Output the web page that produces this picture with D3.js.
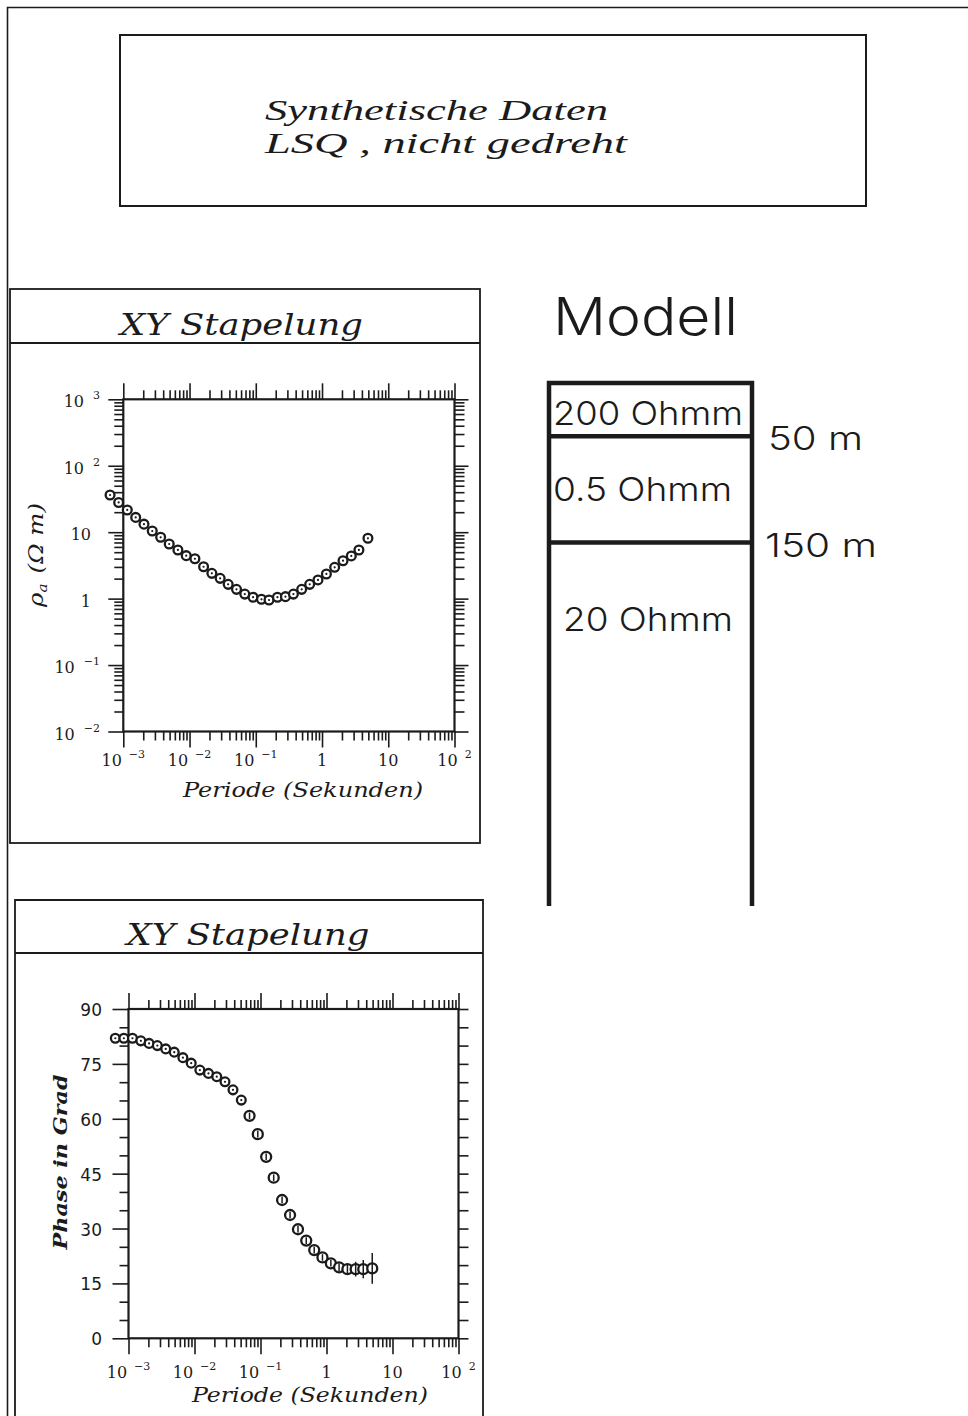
<!DOCTYPE html>
<html><head><meta charset="utf-8">
<script src="https://cdn.jsdelivr.net/npm/d3@7"></script>
<style>body{margin:0;background:#fff} svg{display:block}</style>
</head><body>
<svg id="c" width="968" height="1416"></svg>
<script>
// ---------------- data ----------------
const titleLines = ["Synthetische Daten", "LSQ , nicht gedreht"];
const panelTitle = "XY Stapelung";
const xAxisTitle = "Periode (Sekunden)";
const rhoAxisTitle = ["ρ", "a", " (Ω m)"];
const phaseAxisTitle = "Phase in Grad";
const periods = [6.31e-4, 8.51e-4, 1.148e-3, 1.538e-3, 2.051e-3, 2.735e-3, 3.664e-3, 4.932e-3,
  6.668e-3, 8.913e-3, 1.205e-2, 1.629e-2, 2.173e-2, 2.897e-2, 3.828e-2, 5.117e-2,
  6.823e-2, 9.099e-2, 0.1219, 0.1585, 0.2123, 0.2805, 0.3698, 0.4932,
  0.6516, 0.8690, 1.164, 1.552, 2.075, 2.767, 3.606, 4.932];
const rhoA = [36.3, 28.0, 21.6, 16.7, 13.2, 10.4, 8.38, 6.64, 5.40, 4.43, 3.98, 3.02, 2.40, 2.02, 1.64, 1.38,
  1.17, 1.05, 0.977, 0.953, 1.05, 1.07, 1.17, 1.38, 1.64, 1.91, 2.35, 2.96, 3.72, 4.39, 5.40, 8.09];
const phase = [82.0, 82.0, 82.0, 81.3, 80.6, 80.0, 79.1, 78.2, 76.7, 75.2, 73.3, 72.4, 71.5, 70.1, 67.9, 65.1,
  60.8, 55.8, 49.6, 43.9, 37.8, 33.7, 29.8, 26.7, 24.1, 22.1, 20.5, 19.4, 18.9, 18.9, 18.9, 19.1];
const phaseErr = [0.3, 0.3, 0.3, 0.3, 0.3, 0.3, 0.3, 0.3, 0.3, 0.3, 0.3, 0.3, 0.3, 0.3, 0.3, 0.3,
  0.9, 0.9, 0.9, 0.9, 0.9, 0.9, 0.9, 0.9, 0.9, 0.9, 0.9, 1.1, 1.4, 2.0, 2.5, 4.2];
const periodTickExps = [-3, -2, -1, 0, 1, 2];
const rhoTickExps = [-2, -1, 0, 1, 2, 3];
const phaseTicks = [0, 15, 30, 45, 60, 75, 90];
const modelTitle = "Modell";
const layerRes = ["200 Ohmm", "0.5 Ohmm", "20 Ohmm"];
const layerTops = [0, 50, 150];
const depthLabels = ["50 m", "150 m"];

// ---------------- drawing ----------------
const K = "#1b1b1b";
const svg = d3.select("#c");
const SERIF = "'DejaVu Serif', serif";
const SANS = "'DejaVu Sans', sans-serif";
const LINE = "'Inter', 'Lato', 'DejaVu Sans', sans-serif";

// outer sheet frame
svg.append("path").attr("d", "M7.5,1416 V7.5 H968").attr("fill", "none").attr("stroke", K).attr("stroke-width", 1.6);

// title box
svg.append("rect").attr("x", 120).attr("y", 35).attr("width", 746).attr("height", 171)
  .attr("fill", "none").attr("stroke", K).attr("stroke-width", 2);
const titleLen = [343, 362];
titleLines.forEach((t, i) => {
  svg.append("text").attr("x", 265).attr("y", 120 + i * 33)
    .attr("font-family", "'Liberation Serif', serif").attr("font-style", "italic")
    .attr("font-size", 30).attr("fill", K)
    .attr("textLength", titleLen[i]).attr("lengthAdjust", "spacingAndGlyphs").text(t);
});

function panelBox(x0, y0, x1, y1, divY, cx, ty, closed) {
  const g = svg.append("g").attr("fill", "none").attr("stroke", K).attr("stroke-width", 1.8);
  if (closed) g.append("rect").attr("x", x0).attr("y", y0).attr("width", x1 - x0).attr("height", y1 - y0);
  else g.append("path").attr("d", `M${x0},${y1} V${y0} H${x1} V${y1}`);
  g.append("line").attr("x1", x0).attr("x2", x1).attr("y1", divY).attr("y2", divY);
  svg.append("text").attr("x", cx).attr("y", ty).attr("text-anchor", "middle")
    .attr("font-family", SERIF).attr("font-style", "italic").attr("font-size", 29).attr("fill", K)
    .attr("textLength", 243).attr("lengthAdjust", "spacingAndGlyphs").text(panelTitle);
}
panelBox(10, 289, 480, 843, 343, 241.5, 335, true);
panelBox(15, 900, 483, 1420, 953, 248, 945, false);

function isMajor(v) { const l = Math.log10(v); return Math.abs(l - Math.round(l)) < 1e-6; }

function drawTicks(axisGen, values, size, tx, ty) {
  const g = svg.append("g").attr("transform", `translate(${tx},${ty})`);
  g.call(axisGen.tickValues(values).tickSize(size).tickSizeOuter(0).tickFormat(""));
  g.select(".domain").remove();
  g.selectAll("line").attr("stroke", K).attr("stroke-width", 1.6);
  return g;
}

function logXAxes(x, yTop, yBot) {
  const all = x.ticks();
  const maj = all.filter(isMajor), min = all.filter(v => !isMajor(v));
  drawTicks(d3.axisTop(x), maj, 16, 0, yTop);
  drawTicks(d3.axisTop(x), min, 9, 0, yTop);
  drawTicks(d3.axisBottom(x), maj, 16, 0, yBot);
  drawTicks(d3.axisBottom(x), min, 9, 0, yBot);
}

function xLabels(x, base) {
  periodTickExps.forEach(e => {
    const t = svg.append("text").attr("x", x(Math.pow(10, e))).attr("y", base)
      .attr("text-anchor", "middle").attr("font-family", SERIF).attr("font-size", 16).attr("fill", K);
    if (e === 0) t.text("1");
    else if (e === 1) t.text("10");
    else {
      t.append("tspan").text("10");
      t.append("tspan").attr("dx", 7).attr("dy", -8).attr("font-size", 11).text(String(e).replace("-", "−"));
    }
  });
}

function marker(g, cx, cy, r, bar) {
  g.append("circle").attr("cx", cx).attr("cy", cy).attr("r", r)
    .attr("fill", "#fff").attr("stroke", K).attr("stroke-width", 2.3);
  if (bar < 1.6) g.append("circle").attr("cx", cx).attr("cy", cy).attr("r", 1.1).attr("fill", K);
  else g.append("line").attr("x1", cx).attr("x2", cx).attr("y1", cy - bar).attr("y2", cy + bar)
    .attr("stroke", K).attr("stroke-width", 1.5);
}

// ---------- upper plot: apparent resistivity ----------
const x1 = d3.scaleLog().domain([1e-3, 1e2]).range([123.3, 454.5]);
const y1 = d3.scaleLog().domain([1e-2, 1e3]).range([731.5, 399.3]);
svg.append("rect").attr("x", x1.range()[0]).attr("y", y1.range()[1])
  .attr("width", x1.range()[1] - x1.range()[0]).attr("height", y1.range()[0] - y1.range()[1])
  .attr("fill", "none").attr("stroke", K).attr("stroke-width", 2.2);
logXAxes(x1, y1.range()[1], y1.range()[0]);
{
  const all = y1.ticks();
  const maj = all.filter(isMajor), min = all.filter(v => !isMajor(v));
  drawTicks(d3.axisLeft(y1), maj, 15, x1.range()[0], 0);
  drawTicks(d3.axisLeft(y1), min, 9, x1.range()[0], 0);
  drawTicks(d3.axisRight(y1), maj, 14, x1.range()[1], 0);
  drawTicks(d3.axisRight(y1), min, 10, x1.range()[1], 0);
}
xLabels(x1, 766);
rhoTickExps.forEach(e => {
  const hasSup = !(e === 0 || e === 1);
  const t = svg.append("text").attr("x", hasSup ? 100 : 91).attr("y", y1(Math.pow(10, e)) + 8)
    .attr("text-anchor", "end").attr("font-family", SERIF).attr("font-size", 16).attr("fill", K);
  if (e === 0) t.text("1");
  else if (e === 1) t.text("10");
  else {
    t.append("tspan").text("10");
    t.append("tspan").attr("dx", 9).attr("dy", -8).attr("font-size", 11).text(String(e).replace("-", "−"));
  }
});
svg.append("text").attr("x", 303).attr("y", 797).attr("text-anchor", "middle")
  .attr("font-family", SERIF).attr("font-style", "italic").attr("font-size", 20).attr("fill", K)
  .attr("textLength", 240).attr("lengthAdjust", "spacingAndGlyphs").text(xAxisTitle);
{
  const t = svg.append("text").attr("transform", "translate(43,555) rotate(-90)").attr("text-anchor", "middle")
    .attr("font-family", SERIF).attr("font-style", "italic").attr("font-size", 21).attr("fill", K)
    .attr("textLength", 104).attr("lengthAdjust", "spacingAndGlyphs");
  t.append("tspan").text(rhoAxisTitle[0]);
  t.append("tspan").attr("font-size", 13).attr("dy", 4).text(rhoAxisTitle[1]);
  t.append("tspan").attr("dy", -4).attr("dx", 2).text(rhoAxisTitle[2]);
}
{
  const g = svg.append("g");
  periods.forEach((p, i) => marker(g, x1(p), y1(rhoA[i]), 4.4, 0));
}

// ---------- lower plot: phase ----------
const x2 = d3.scaleLog().domain([1e-3, 1e2]).range([128.5, 458.5]);
const y2 = d3.scaleLinear().domain([0, 90]).range([1338.3, 1009]);
svg.append("rect").attr("x", x2.range()[0]).attr("y", y2.range()[1])
  .attr("width", x2.range()[1] - x2.range()[0]).attr("height", y2.range()[0] - y2.range()[1])
  .attr("fill", "none").attr("stroke", K).attr("stroke-width", 2.2);
logXAxes(x2, y2.range()[1], y2.range()[0]);
{
  const all = d3.range(0, 91, 5);
  const maj = all.filter(v => phaseTicks.includes(v)), min = all.filter(v => !phaseTicks.includes(v));
  drawTicks(d3.axisLeft(y2), maj, 16, x2.range()[0], 0);
  drawTicks(d3.axisLeft(y2), min, 9, x2.range()[0], 0);
  drawTicks(d3.axisRight(y2), all, 10, x2.range()[1], 0);
}
xLabels(x2, 1378);
phaseTicks.forEach(v => {
  svg.append("text").attr("x", 102).attr("y", y2(v) + 7).attr("text-anchor", "end")
    .attr("font-family", SANS).attr("font-size", 17).attr("fill", K).text(v);
});
svg.append("text").attr("x", 310).attr("y", 1402).attr("text-anchor", "middle")
  .attr("font-family", SERIF).attr("font-style", "italic").attr("font-size", 20).attr("fill", K)
  .attr("textLength", 236).attr("lengthAdjust", "spacingAndGlyphs").text(xAxisTitle);
svg.append("text").attr("transform", "translate(67,1162) rotate(-90)").attr("text-anchor", "middle")
  .attr("font-family", SERIF).attr("font-style", "italic").attr("font-weight", "bold").attr("font-size", 19).attr("fill", K)
  .attr("textLength", 175).attr("lengthAdjust", "spacingAndGlyphs").text(phaseAxisTitle);
{
  const g = svg.append("g");
  periods.forEach((p, i) => {
    const bar = Math.abs(y2(phase[i] + phaseErr[i]) - y2(phase[i]));
    marker(g, x2(p), y2(phase[i]), bar < 1.6 ? 4.4 : 5, bar);
  });
}

// ---------- model ----------
const zd = d3.scaleLinear().domain([0, 150]).range([383, 542.5]);
const mx0 = 549, mx1 = 752, mBottom = 906;
svg.append("text").attr("x", 553).attr("y", 335).attr("font-family", LINE).attr("font-weight", 300)
  .attr("font-size", 52).attr("fill", K).attr("textLength", 185).attr("lengthAdjust", "spacingAndGlyphs").text(modelTitle);
const mg = svg.append("g").attr("stroke", K).attr("stroke-width", 4.5).attr("fill", "none");
mg.append("path").attr("d", `M${mx0},${mBottom} V${zd(0)} H${mx1} V${mBottom}`);
layerTops.slice(1).forEach(d => mg.append("line").attr("x1", mx0).attr("x2", mx1).attr("y1", zd(d)).attr("y2", zd(d)));
const resPos = [{x: 553, len: 190, y: zd(0) + 42}, {x: 553, len: 179, y: zd(50) + 65}, {x: 563, len: 170, y: zd(150) + 88}];
layerRes.forEach((t, i) => {
  svg.append("text").attr("x", resPos[i].x).attr("y", resPos[i].y).attr("font-family", LINE).attr("font-weight", 300)
    .attr("font-size", 33).attr("fill", K).attr("textLength", resPos[i].len).attr("lengthAdjust", "spacingAndGlyphs").text(t);
});
const depPos = [{x: 768, len: 95}, {x: 765, len: 112}];
depthLabels.forEach((t, i) => {
  svg.append("text").attr("x", depPos[i].x).attr("y", zd(layerTops[i + 1]) + 14).attr("font-family", LINE).attr("font-weight", 300)
    .attr("font-size", 33).attr("fill", K).attr("textLength", depPos[i].len).attr("lengthAdjust", "spacingAndGlyphs").text(t);
});
</script>
</body></html>
